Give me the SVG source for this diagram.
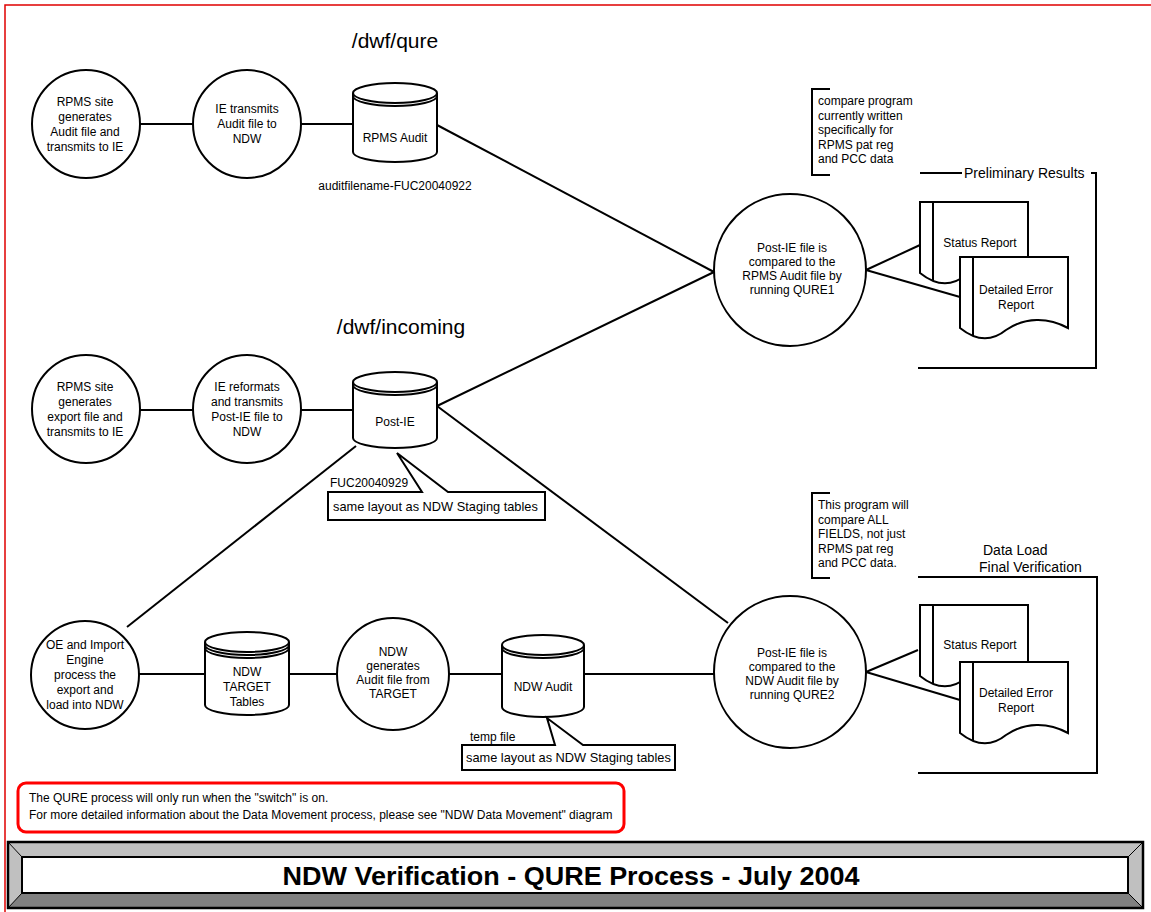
<svg xmlns="http://www.w3.org/2000/svg" width="1151" height="912" viewBox="0 0 1151 912">
<style>
.ln{stroke:#000;stroke-width:2;fill:none}
.nd{fill:#fff;stroke:#000;stroke-width:2}
.t{font-family:"Liberation Sans",Arial,sans-serif;font-size:12px;fill:#000}
.k{font-family:"Liberation Sans",Arial,sans-serif;font-size:12.8px;fill:#000}
.c{text-anchor:middle}
.h{font-family:"Liberation Sans",Arial,sans-serif;font-size:21px;fill:#000;text-anchor:middle}
.g{font-family:"Liberation Sans",Arial,sans-serif;font-size:14px;fill:#000}
.r{font-family:"Liberation Sans",Arial,sans-serif;font-size:12px;fill:#000}
</style>
<rect x="0" y="0" width="1151" height="912" fill="#fff"/>
<rect x="5" y="5" width="1200" height="1000" fill="none" stroke="#e00000" stroke-width="1.5"/>

<text class="h" x="395" y="48">/dwf/qure</text>
<text class="h" x="401" y="334">/dwf/incoming</text>

<g id="connectors">
<line class="ln" x1="140" y1="124" x2="193" y2="124"/>
<line class="ln" x1="301" y1="124" x2="353" y2="124"/>
<line class="ln" x1="437" y1="125" x2="714" y2="272"/>
<line class="ln" x1="140" y1="410" x2="193" y2="410"/>
<line class="ln" x1="301" y1="410" x2="353" y2="410"/>
<line class="ln" x1="437" y1="406" x2="714" y2="272"/>
<line class="ln" x1="437" y1="406" x2="728" y2="623"/>
<line class="ln" x1="356" y1="446" x2="127" y2="627"/>
<line class="ln" x1="139" y1="674" x2="205" y2="674"/>
<line class="ln" x1="289" y1="674" x2="337" y2="674"/>
<line class="ln" x1="449" y1="674" x2="502" y2="674"/>
<line class="ln" x1="584" y1="674" x2="714" y2="674"/>
<line class="ln" x1="866" y1="270" x2="920" y2="245"/>
<line class="ln" x1="866" y1="270" x2="960" y2="297"/>
<line class="ln" x1="866" y1="672" x2="918" y2="650"/>
<line class="ln" x1="866" y1="672" x2="960" y2="700"/>
</g>

<g id="n-rpms-site-audit">
<circle class="nd" cx="86" cy="124" r="54"/>
<text class="t c" x="85" y="106">RPMS site<tspan x="85" dy="15">generates</tspan><tspan x="85" dy="15">Audit file and</tspan><tspan x="85" dy="15">transmits to IE</tspan></text>
</g>
<g id="n-ie-transmits">
<circle class="nd" cx="247" cy="124" r="54"/>
<text class="t c" x="247" y="113">IE transmits<tspan x="247" dy="15">Audit file to</tspan><tspan x="247" dy="15">NDW</tspan></text>
</g>
<g id="n-rpms-audit">
<path class="nd" d="M353,93 V152 A42,10 0 0 0 437,152 V93"/>
<ellipse class="nd" cx="395" cy="93" rx="42" ry="10"/>
<path class="ln" d="M353,96 A42,10 0 0 0 437,96"/>
<text class="t c" x="395" y="142">RPMS Audit</text>
<text class="t c" x="395" y="190">auditfilename-FUC20040922</text>
</g>

<g id="n-note1">
<path class="ln" d="M830,89 H812 V175 H830"/>
<text class="t" x="818" y="105">compare program<tspan x="818" dy="14.5">currently written</tspan><tspan x="818" dy="14.5">specifically for</tspan><tspan x="818" dy="14.5">RPMS pat reg</tspan><tspan x="818" dy="14.5">and PCC data</tspan></text>
</g>

<g id="n-qure1">
<circle class="nd" cx="790" cy="270" r="76"/>
<text class="t c" x="792" y="252">Post-IE file is<tspan x="792" dy="14">compared to the</tspan><tspan x="792" dy="14">RPMS Audit file by</tspan><tspan x="792" dy="14">running QURE1</tspan></text>
</g>

<g id="n-prelim">
<path class="ln" d="M920,173 H962 M1091,173 H1096 V368 H918"/>
<text class="g" x="964" y="178">Preliminary Results</text>
</g>
<g id="n-status1">
<path class="nd" d="M920,202 H1028 V273 C1008,262 985,262 966,275 C950,288 935,285 920,273 Z"/>
<line class="ln" x1="933" y1="202" x2="933" y2="281"/>
<text class="t c" x="980" y="247">Status Report</text>
</g>
<g id="n-error1">
<path class="nd" d="M960,257 H1068 V328 C1048,317 1025,317 1006,330 C990,343 975,340 960,328 Z"/>
<line class="ln" x1="973" y1="257" x2="973" y2="336"/>
<text class="t c" x="1016" y="294">Detailed Error<tspan x="1016" dy="15">Report</tspan></text>
</g>

<g id="n-rpms-site-export">
<circle class="nd" cx="86" cy="409" r="54"/>
<text class="t c" x="85" y="391">RPMS site<tspan x="85" dy="15">generates</tspan><tspan x="85" dy="15">export file and</tspan><tspan x="85" dy="15">transmits to IE</tspan></text>
</g>
<g id="n-ie-reformats">
<circle class="nd" cx="247" cy="409" r="54"/>
<text class="t c" x="247" y="391">IE reformats<tspan x="247" dy="15">and transmits</tspan><tspan x="247" dy="15">Post-IE file to</tspan><tspan x="247" dy="15">NDW</tspan></text>
</g>
<g id="n-post-ie">
<path class="nd" d="M353,382 V438 A42,10 0 0 0 437,438 V382"/>
<ellipse class="nd" cx="395" cy="382" rx="42" ry="10"/>
<path class="ln" d="M353,385 A42,10 0 0 0 437,385"/>
<text class="t c" x="395" y="426">Post-IE</text>
</g>
<g id="n-callout1">
<path class="nd" d="M328,492 H422 L397,453 L448,492 H545 V520 H328 Z"/>
<text class="t" x="330" y="487">FUC20040929</text>
<text class="k" x="333" y="511">same layout as NDW Staging tables</text>
</g>

<g id="n-note2">
<path class="ln" d="M830,493 H812 V578 H830"/>
<text class="t" x="818" y="509">This program will<tspan x="818" dy="14.5">compare ALL</tspan><tspan x="818" dy="14.5">FIELDS, not just</tspan><tspan x="818" dy="14.5">RPMS pat reg</tspan><tspan x="818" dy="14.5">and PCC data.</tspan></text>
</g>
<g id="n-final">
<path class="ln" d="M918,577 H1097 V773 H918"/>
<text class="g" x="983" y="555">Data Load</text>
<text class="g" x="979" y="572">Final Verification</text>
</g>

<g id="n-oe-import">
<circle class="nd" cx="85" cy="675" r="54"/>
<text class="t c" x="85" y="649">OE and Import<tspan x="85" dy="15">Engine</tspan><tspan x="85" dy="15">process the</tspan><tspan x="85" dy="15">export and</tspan><tspan x="85" dy="15">load into NDW</tspan></text>
</g>
<g id="n-target">
<path class="nd" d="M205,642 V705 A42,10 0 0 0 289,705 V642"/>
<ellipse class="nd" cx="247" cy="642" rx="42" ry="10"/>
<path class="ln" d="M205,645 A42,10 0 0 0 289,645 M205,648 A42,10 0 0 0 289,648"/>
<text class="t c" x="247" y="676">NDW<tspan x="247" dy="15">TARGET</tspan><tspan x="247" dy="15">Tables</tspan></text>
</g>
<g id="n-ndw-generates">
<circle class="nd" cx="393" cy="674" r="56"/>
<text class="t c" x="393" y="656">NDW<tspan x="393" dy="14">generates</tspan><tspan x="393" dy="14">Audit file from</tspan><tspan x="393" dy="14">TARGET</tspan></text>
</g>
<g id="n-ndw-audit">
<path class="nd" d="M502,645 V707 A41,10 0 0 0 584,707 V645"/>
<ellipse class="nd" cx="543" cy="645" rx="41" ry="10"/>
<path class="ln" d="M502,648 A41,10 0 0 0 584,648"/>
<text class="t c" x="543" y="691">NDW Audit</text>
</g>
<g id="n-callout2">
<path class="nd" d="M462,745 H555 L547,718 L583,745 H675 V770 H462 Z"/>
<text class="t" x="470" y="741">temp file</text>
<text class="k" x="466" y="762">same layout as NDW Staging tables</text>
</g>

<g id="n-qure2">
<circle class="nd" cx="790" cy="672" r="76"/>
<text class="t c" x="792" y="657">Post-IE file is<tspan x="792" dy="14">compared to the</tspan><tspan x="792" dy="14">NDW Audit file by</tspan><tspan x="792" dy="14">running QURE2</tspan></text>
</g>
<g id="n-status2">
<path class="nd" d="M920,605 H1028 V676 C1008,665 985,665 966,678 C950,691 935,688 920,676 Z"/>
<line class="ln" x1="933" y1="605" x2="933" y2="684"/>
<text class="t c" x="980" y="649">Status Report</text>
</g>
<g id="n-error2">
<path class="nd" d="M960,662 H1068 V733 C1048,722 1025,722 1006,735 C990,748 975,745 960,733 Z"/>
<line class="ln" x1="973" y1="662" x2="973" y2="741"/>
<text class="t c" x="1016" y="697">Detailed Error<tspan x="1016" dy="15">Report</tspan></text>
</g>

<g id="n-rednote">
<rect x="18" y="783" width="606" height="49" rx="8" fill="#fff" stroke="#ff0000" stroke-width="3"/>
<text class="r" x="29" y="802">The QURE process will only run when the "switch" is on.</text>
<text class="r" x="29" y="819">For more detailed information about the Data Movement process, please see "NDW Data Movement" diagram</text>
</g>

<g id="n-title">
<polygon points="8,842 1143,842 1128,857 22,857" fill="#c0c0c0"/>
<polygon points="8,842 22,857 22,893 8,908" fill="#c0c0c0"/>
<polygon points="1143,842 1128,857 1128,893 1143,908" fill="#c0c0c0"/>
<polygon points="8,908 22,893 1128,893 1143,908" fill="#808080"/>
<path d="M8,842 L22,857 M1143,842 L1128,857 M8,908 L22,893 M1143,908 L1128,893" stroke="#000" stroke-width="1"/>
<rect x="8" y="842" width="1135" height="66" fill="none" stroke="#000" stroke-width="2.5"/>
<rect x="22" y="857" width="1106" height="36" fill="#fff" stroke="#000" stroke-width="2"/>
<text x="571" y="885" font-family="'Liberation Sans',Arial,sans-serif" font-size="25" font-weight="bold" text-anchor="middle" textLength="577" lengthAdjust="spacingAndGlyphs">NDW Verification - QURE Process - July 2004</text>
</g>
</svg>
